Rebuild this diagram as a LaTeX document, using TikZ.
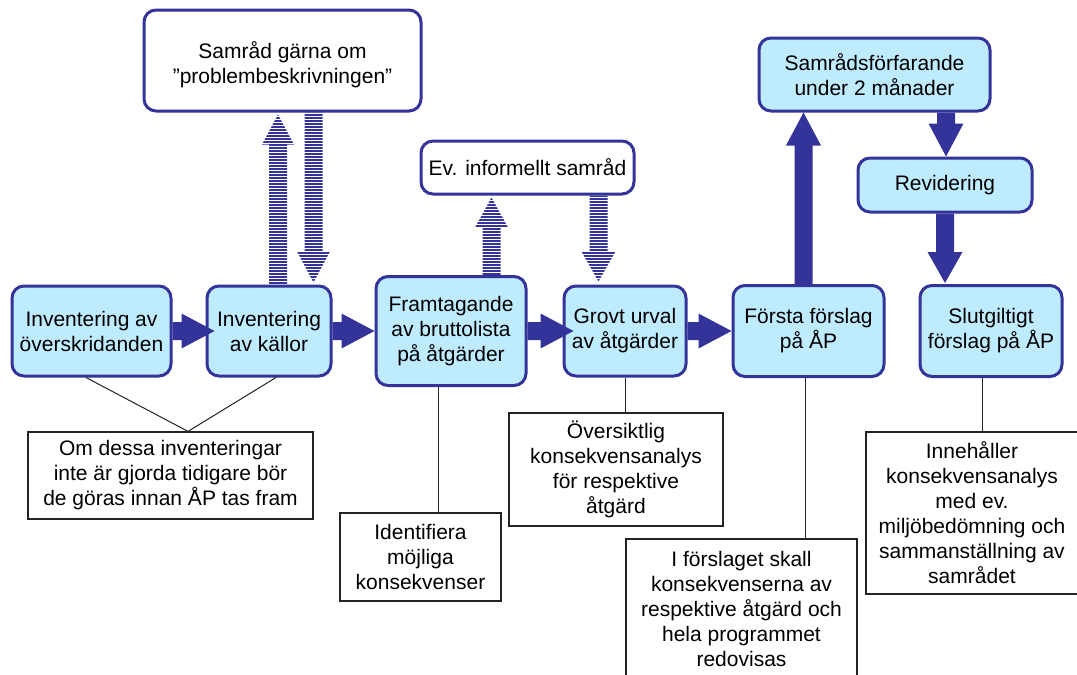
\documentclass[tikz,border=0pt]{standalone}
\usepackage{fontspec}
\setmainfont{Liberation Sans}
\usetikzlibrary{calc}

\definecolor{boxfill}{RGB}{191,235,255}
\definecolor{navy}{RGB}{51,51,153}
\definecolor{inkgray}{RGB}{35,35,35}

\tikzset{
  every node/.style={font=\fontsize{21}{25}\selectfont, align=center, inner sep=0pt},
  stepnode/.style={draw=navy, line width=3pt, fill=boxfill, rounded corners=12pt},
  talkbox/.style={draw=navy, line width=3pt, fill=white, rounded corners=12pt},
  notebox/.style={draw=inkgray, line width=1.2pt, fill=white},
  leader/.style={draw=inkgray, line width=1pt},
  solidarrow/.style={fill=navy},
}

% outline of a block arrow pointing right: tail, tip
\newcommand\hshape[2]{%
  ($(#1)+(0,9)$) -- ($(#2)+(-33,9)$) -- ($(#2)+(-33,17.5)$) -- (#2)
    -- ($(#2)+(-33,-17.5)$) -- ($(#2)+(-33,-9)$) -- ($(#1)+(0,-9)$) -- cycle}
% outline of a vertical block arrow: tail, tip, signed head length, head half width
\newcommand\vshape[4]{%
  ($(#1)+(-9,0)$) -- ($(#2)+(-9,#3)$) -- ($(#2)+(-#4,#3)$) -- (#2)
    -- ($(#2)+(#4,#3)$) -- ($(#2)+(9,#3)$) -- ($(#1)+(9,0)$) -- cycle}

\begin{document}
\begin{tikzpicture}[x=1pt,y=-1pt]
\useasboundingbox (0,0) rectangle (1077,675);
\begin{scope}
\clip (0,0) rectangle (1077,675);

% main process row
\node[stepnode, minimum width=159pt, minimum height=90pt] (A) at (91.5,331) {Inventering av\\överskridanden};
\node[stepnode, minimum width=124pt, minimum height=90pt] (B) at (269,331) {Inventering\\av källor};
\node[stepnode, minimum width=150pt, minimum height=109pt] (C) at (451,331) {Framtagande\\av bruttolista\\på åtgärder};
\node[stepnode, minimum width=122pt, minimum height=90pt] (D) at (625,331) {Grovt urval\\av åtgärder};
\node[stepnode, minimum width=151pt, minimum height=91pt] (E) at (808.5,331) {Första förslag\\på ÅP};
\node[stepnode, minimum width=142pt, minimum height=91pt] (F) at (991,331) {Slutgiltigt\\förslag på ÅP};

% consultation boxes
\node[talkbox, minimum width=277pt, minimum height=101pt, text depth=0pt] (G) at (282.5,60.5) {\raisebox{-4pt}{\shortstack{Samråd gärna om\\[3pt]”problembeskrivningen”}}};
\node[talkbox, minimum width=213pt, minimum height=53pt] (H) at (527.5,167.5) {Ev. informellt samråd};
\node[stepnode, minimum width=231pt, minimum height=73pt] (I) at (874.5,74.5) {Samrådsförfarande\\under 2 månader};
\node[stepnode, minimum width=174pt, minimum height=54pt] (J) at (945,185) {Revidering};

% explanatory notes
\node[notebox, minimum width=285pt, minimum height=87pt] (K) at (170.5,475.5) {Om dessa inventeringar\\inte är gjorda tidigare bör\\de göras innan ÅP tas fram};
\node[notebox, minimum width=161pt, minimum height=88pt] (L) at (420.5,557) {Identifiera\\möjliga\\konsekvenser};
\node[notebox, minimum width=214pt, minimum height=113pt] (M) at (616,469.5) {Översiktlig\\konsekvensanalys\\för respektive\\åtgärd};
\node[notebox, minimum width=231pt, minimum height=140pt] (N) at (741.5,609) {I förslaget skall\\konsekvenserna av\\respektive åtgärd och\\hela programmet\\redovisas};
\node[notebox, minimum width=212pt, minimum height=162pt] (O) at (972,513) {Innehåller\\konsekvensanalys\\med ev.\\miljöbedömning och\\sammanställning av\\samrådet};

% leader lines to the notes
\draw[leader] ($(A.south)+(-5.5,0)$) -- ($(K.north)+(17.5,0)$) -- ($(B.south)+(7,0)$);
\draw[leader] ($(C.south)+(-13,0)$) coordinate (c1) -- (c1 |- L.north);
\draw[leader] (D.south) -- (D.south |- M.north);
\draw[leader] ($(E.south)+(-3.5,0)$) coordinate (e1) -- (e1 |- N.north);
\draw[leader] ($(F.south)+(-9,0)$) coordinate (f1) -- (f1 |- O.north);

% flow arrows along the main row
\coordinate (abTip) at ($(B.west)+(9,0)$);
\coordinate (cdTip) at ($(C.east)+(46,0)$);
\path[solidarrow] \hshape{A.east}{abTip};
\path[solidarrow] \hshape{B.east}{C.west};
\path[solidarrow] \hshape{C.east}{cdTip};
\path[solidarrow] \hshape{D.east}{E.west};

% consultation loop on the right
\coordinate (eUp) at ($(E.north)+(-5,0)$);
\coordinate (eTip) at (eUp |- I.south);
\path[solidarrow] \vshape{eUp}{eTip}{33}{17.5};
\coordinate (iDn) at ($(I.south)+(71.5,0)$);
\coordinate (iTip) at (iDn |- J.north);
\path[solidarrow] \vshape{iDn}{iTip}{-33}{17.5};
\coordinate (jTip) at ($(J.south |- F.north)+(0,-1)$);
\path[solidarrow] \vshape{J.south}{jTip}{-31}{17.5};

% hatched consultation arrows: clip to the four outlines, then rule them
\coordinate (bUp) at ($(B.north)+(9,0)$);
\coordinate (bTip) at ($(bUp |- G.south)+(0,2)$);
\coordinate (gDn) at ($(B.north)+(44.5,0)$);
\coordinate (gTail) at (gDn |- G.south);
\coordinate (gTip) at ($(gDn)+(0,-2)$);
\coordinate (cUp) at ($(C.north)+(40.5,0)$);
\coordinate (cTip) at ($(cUp |- H.south)+(0,2)$);
\coordinate (dDn) at ($(D.north)+(-26.5,0)$);
\coordinate (hTail) at (dDn |- H.south);
\coordinate (dTip) at ($(dDn)+(0,-3)$);
\begin{scope}
  \clip \vshape{bUp}{bTip}{30}{16}
        \vshape{gTail}{gTip}{-31}{16.5}
        \vshape{cUp}{cTip}{30}{16.5}
        \vshape{hTail}{dTip}{-30}{17};
  \foreach \k in {36,...,96}
    \fill[navy] (240,3*\k) rectangle (660,3*\k+1.6);
\end{scope}
\end{scope}
\end{tikzpicture}
\end{document}
